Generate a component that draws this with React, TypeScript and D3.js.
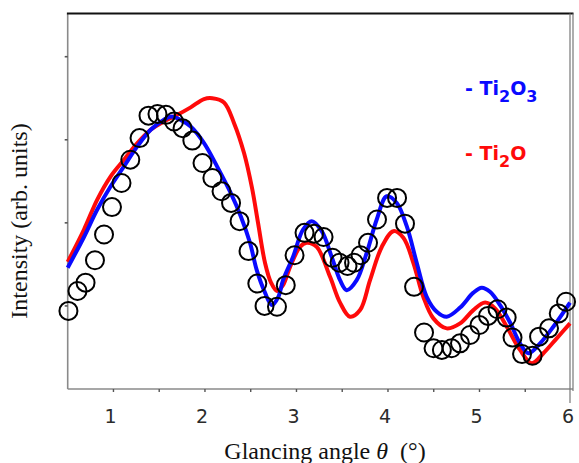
import React from 'react';
import * as d3 from 'd3';

// Measured X-ray reflectivity (open circles)
const measuredAngle = [
  0.508, 0.607, 0.695, 0.798, 0.897, 0.984, 1.088, 1.184, 1.285, 1.383,
  1.481, 1.574, 1.662, 1.755, 1.862, 1.973, 2.081, 2.181, 2.285, 2.378,
  2.476, 2.572, 2.651, 2.787, 2.883, 2.979, 3.088, 3.192, 3.296, 3.394,
  3.471, 3.558, 3.629, 3.7, 3.782, 3.88, 3.99, 4.099, 4.186, 4.285,
  4.394, 4.498, 4.589, 4.695, 4.787, 4.897, 5.0, 5.093, 5.197, 5.297,
  5.361, 5.465, 5.58, 5.651, 5.76, 5.866, 5.946,
];
const measuredIntensity = [
  0.94, 1.18, 1.28, 1.55, 1.86, 2.19, 2.48, 2.76, 3.02, 3.29,
  3.31, 3.3, 3.22, 3.14, 2.99, 2.72, 2.54, 2.38, 2.24, 2.02,
  1.66, 1.27, 1.0, 0.99, 1.25, 1.61, 1.88, 1.87, 1.83, 1.58,
  1.52, 1.48, 1.52, 1.61, 1.76, 2.04, 2.3, 2.3, 1.99, 1.23,
  0.68, 0.49, 0.47, 0.49, 0.55, 0.65, 0.77, 0.88, 0.96, 0.86,
  0.62, 0.42, 0.4, 0.63, 0.73, 0.91, 1.05,
];

// Simulated curve, Ti2O3 layer
const ti2o3Angle = [
  0.5, 0.678, 0.823, 0.97, 1.115, 1.261, 1.407, 1.552, 1.629, 1.749,
  1.844, 1.99, 2.132, 2.281, 2.391, 2.492, 2.566, 2.656, 2.73, 2.802,
  2.853, 2.962, 3.072, 3.167, 3.276, 3.385, 3.476, 3.549, 3.658, 3.768,
  3.877, 3.986, 4.096, 4.205, 4.314, 4.423, 4.533, 4.642, 4.788, 4.933,
  5.025, 5.115, 5.225, 5.334, 5.443, 5.534, 5.662, 5.807, 5.989,
];
const ti2o3Intensity = [
  1.46, 1.83, 2.16, 2.44, 2.68, 2.92, 3.12, 3.24, 3.28, 3.23,
  3.16, 2.96, 2.68, 2.36, 2.08, 1.76, 1.43, 1.16, 1.01, 1.11,
  1.31, 1.59, 1.92, 2.02, 1.9, 1.59, 1.31, 1.19, 1.31, 1.64,
  2.04, 2.32, 2.24, 1.96, 1.52, 1.11, 0.93, 0.87, 0.98, 1.16,
  1.22, 1.17, 1.01, 0.8, 0.55, 0.43, 0.55, 0.75, 1.04,
];

// Simulated curve, Ti2O layer
const ti2oAngle = [
  0.5, 0.678, 0.823, 0.97, 1.115, 1.261, 1.407, 1.552, 1.698, 1.844,
  1.99, 2.08, 2.208, 2.318, 2.427, 2.514, 2.58, 2.656, 2.722, 2.788,
  2.853, 2.93, 3.039, 3.112, 3.221, 3.367, 3.476, 3.585, 3.695, 3.804,
  3.932, 4.059, 4.168, 4.277, 4.386, 4.496, 4.642, 4.788, 4.933, 5.061,
  5.17, 5.298, 5.443, 5.571, 5.698, 5.844, 5.989,
];
const ti2oIntensity = [
  1.53, 1.92, 2.28, 2.56, 2.76, 2.96, 3.12, 3.22, 3.3, 3.39,
  3.49, 3.5, 3.45, 3.2, 2.84, 2.42, 2.0, 1.52, 1.28, 1.18,
  1.25, 1.47, 1.71, 1.76, 1.71, 1.35, 1.04, 0.87, 0.95, 1.31,
  1.71, 1.9, 1.82, 1.52, 1.11, 0.85, 0.73, 0.79, 0.95, 1.04,
  0.97, 0.75, 0.47, 0.31, 0.43, 0.61, 0.79,
];

const xTickLabels = [1, 2, 3, 4, 5, 6];
const xMinorTicks = [1, 1.5, 2, 2.5, 3, 3.5, 4, 4.5, 5, 5.5];
const yTicks = [1, 2, 3, 4];

const W = 579;
const H = 463;
const plotLeft = 67.7;
const plotRight = 571;
const plotTop = 13.5;
const plotBottom = 389;

const BLUE = '#0a0aff';
const RED = '#ff0a0a';

export default function App() {
  const x = d3.scaleLinear().domain([0.5, 6]).range([plotLeft, plotRight]);
  const y = d3.scaleLinear().domain([0, 4.52]).range([plotBottom, plotTop]);

  const line = d3
    .line<[number, number]>()
    .x((d) => x(d[0]))
    .y((d) => y(d[1]))
    .curve(d3.curveCatmullRom.alpha(0.5));

  const ti2o3Path = line(ti2o3Angle.map((a, i) => [a, ti2o3Intensity[i]])) || '';
  const ti2oPath = line(ti2oAngle.map((a, i) => [a, ti2oIntensity[i]])) || '';

  const serif = '"Liberation Serif", "Times New Roman", serif';
  const sans = '"DejaVu Sans", Verdana, sans-serif';

  return (
    <svg
      width={W}
      height={H}
      viewBox={`0 0 ${W} ${H}`}
      style={{ position: 'absolute', left: 0, top: 0, background: '#fff' }}
    >
      <rect x={0} y={0} width={W} height={H} fill="#fff" />

      {/* frame */}
      <line x1={plotLeft} x2={plotLeft} y1={plotTop} y2={plotBottom} stroke="#8a8a8a" strokeWidth={1.6} />
      <line x1={plotLeft} x2={plotRight + 2} y1={plotBottom} y2={plotBottom} stroke="#8a8a8a" strokeWidth={1.6} />
      <line x1={plotLeft - 0.8} x2={plotRight + 2.5} y1={plotTop} y2={plotTop} stroke="#111" strokeWidth={2} />
      <line x1={plotRight - 1} x2={plotRight - 1} y1={plotTop} y2={plotBottom + 14} stroke="#777" strokeWidth={1.2} />
      <line x1={plotRight + 2} x2={plotRight + 2} y1={plotTop} y2={plotBottom + 2} stroke="#777" strokeWidth={1.2} />

      {/* y ticks */}
      {yTicks.map((t) => (
        <line key={`yt${t}`} x1={plotLeft - 3} x2={plotLeft} y1={y(t)} y2={y(t)} stroke="#555" strokeWidth={1.6} />
      ))}

      {/* x ticks */}
      {xMinorTicks.map((t) => (
        <line key={`xt${t}`} x1={x(t)} x2={x(t)} y1={plotBottom} y2={plotBottom + 3} stroke="#555" strokeWidth={1.4} />
      ))}
      {xTickLabels.map((t) => (
        <text
          key={`xl${t}`}
          x={x(t) - 3}
          y={plotBottom + 34}
          textAnchor="middle"
          fontFamily={sans}
          fontSize={19}
          fill="#2b2b2b"
        >
          {t}
        </text>
      ))}

      {/* simulated curves */}
      <path d={ti2oPath} fill="none" stroke={RED} strokeWidth={4} strokeLinejoin="round" />
      <path d={ti2o3Path} fill="none" stroke={BLUE} strokeWidth={4} strokeLinejoin="round" />

      {/* measured data */}
      {measuredAngle.map((a, i) => (
        <circle key={`m${i}`} cx={x(a)} cy={y(measuredIntensity[i])} r={9} fill="none" stroke="#000" strokeWidth={2} />
      ))}

      {/* legend */}
      <text x={465} y={95} fontFamily={sans} fontWeight="bold" fontSize={19} fill={BLUE}>
        -{' '}Ti
        <tspan fontSize={16} dy={7}>2</tspan>
        <tspan dy={-7}>O</tspan>
        <tspan fontSize={16} dy={7}>3</tspan>
      </text>
      <text x={465} y={160} fontFamily={sans} fontWeight="bold" fontSize={19} fill={RED}>
        -{' '}Ti
        <tspan fontSize={16} dy={7}>2</tspan>
        <tspan dy={-7}>O</tspan>
      </text>

      {/* axis titles */}
      <text x={325} y={459} textAnchor="middle" fontFamily={serif} fontSize={24} fill="#111">
        Glancing angle <tspan fontStyle="italic">θ</tspan>{'\u00a0 (°)'}
      </text>
      <text
        transform={`translate(27, 221) rotate(-90)`}
        textAnchor="middle"
        fontFamily={serif}
        fontSize={24}
        fill="#111"
      >
        Intensity (arb. units)
      </text>
    </svg>
  );
}
